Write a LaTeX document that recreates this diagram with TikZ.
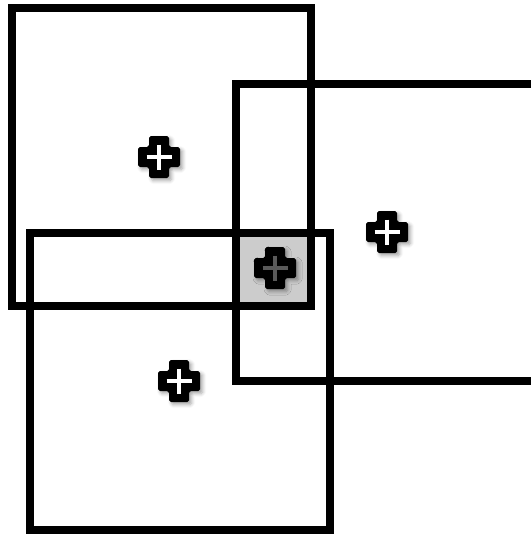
\documentclass[tikz,border=0pt]{standalone}
\usepackage{xcolor}
\usepackage{tikz}
\usetikzlibrary{shadows.blur}
\definecolor{Overlap}{HTML}{CCCCCC}
\definecolor{MidCross}{HTML}{5A5A5A}
\begin{document}
\begin{tikzpicture}[x=0.02cm,y=-0.02cm,
    box/.style={draw=black,line width=4pt},
    pics/crossmark/.style={code={
      \fill[black,rounded corners=1pt,blur shadow={shadow xshift=1.5pt,shadow yshift=-1.5pt,shadow opacity=35,shadow blur radius=2pt}]
        (-10,-21) -- (10,-21) -- (10,-10) -- (21,-10) -- (21,10) -- (10,10) -- (10,21)
        -- (-10,21) -- (-10,10) -- (-21,10) -- (-21,-10) -- (-10,-10) -- cycle;
      \draw[line width=2.6pt,#1] (-12.5,0) -- (12.5,0) (0,-12.5) -- (0,12.5);}}]
    \useasboundingbox (0,0) rectangle (531,535);
    \clip (0,0) rectangle (531,535);
    % overlap of the three windows
    \fill[Overlap] (236,233) rectangle (311,306);
    \draw[box] (12,8) rectangle (311,306);
    \draw[box] (236,84) rectangle (560,381);
    \draw[box] (30,233) rectangle (330,530);
    \pic (crossA) at (159,157) {crossmark=white};
    \pic (crossB) at (387,232) {crossmark=white};
    \pic (crossC) at (179,381) {crossmark=white};
    \pic (crossM) at (275,268) {crossmark=MidCross};
\end{tikzpicture}
\end{document}
